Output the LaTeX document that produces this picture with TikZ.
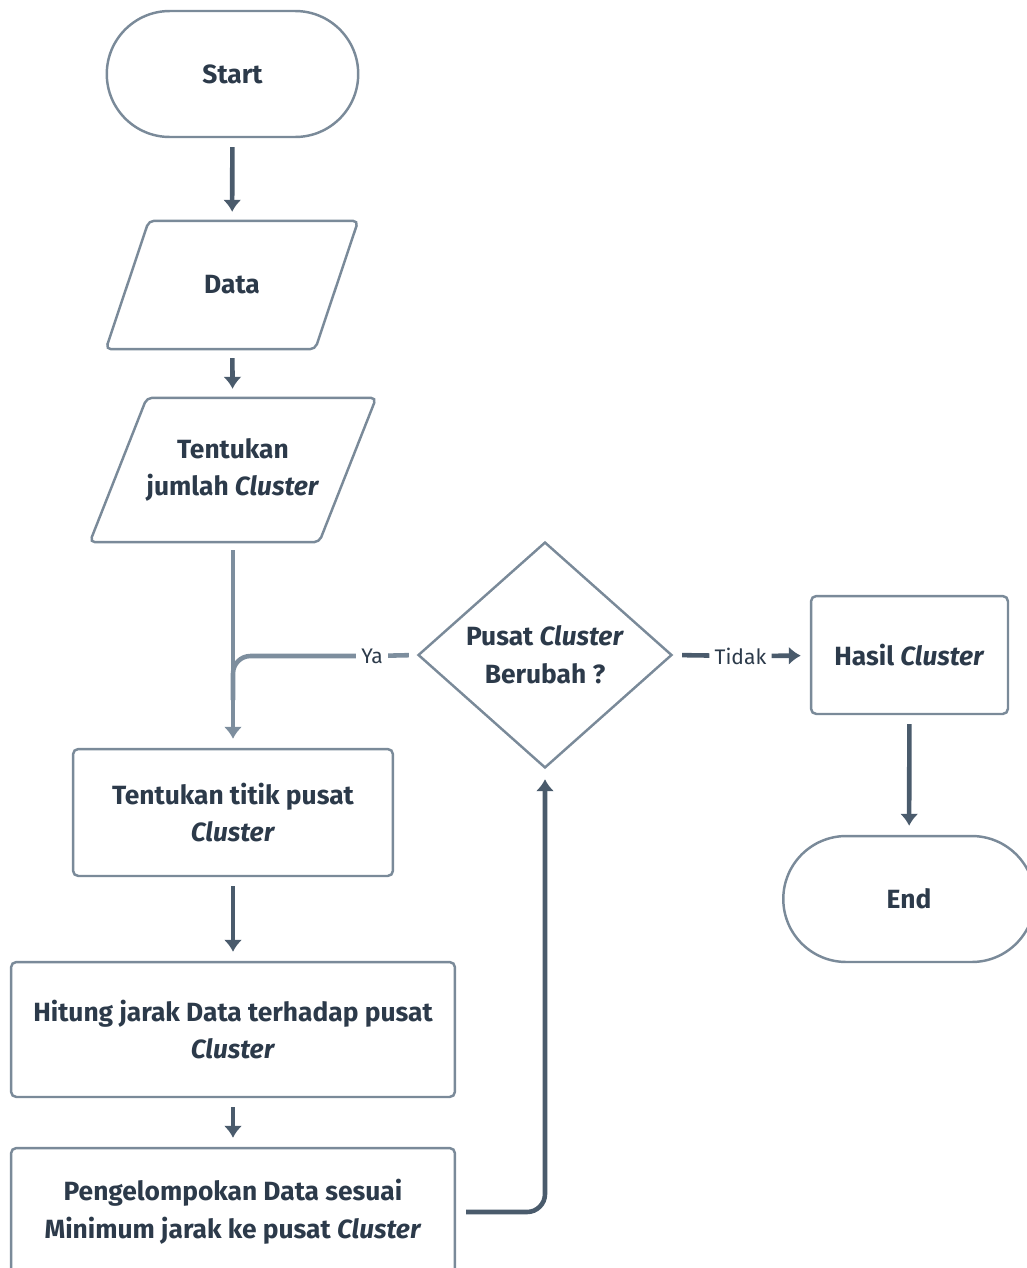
\documentclass[tikz,border=0pt]{standalone}
\usepackage{fontspec}
\setmainfont{Fira Sans}
\usetikzlibrary{
  arrows.meta,
  positioning,
  shapes.geometric,
  shapes.misc
}

\definecolor{edgegray}{RGB}{122,138,153}
\definecolor{arrowdark}{RGB}{74,91,108}
\definecolor{arrowlight}{RGB}{125,142,158}
\definecolor{textdark}{RGB}{44,58,74}

\tikzset{
  base/.style={draw=edgegray,line width=1.4pt,text=textdark,align=center,inner sep=0pt,
    font=\bfseries\fontsize{15}{21.5}\selectfont},
  terminal/.style={base,rounded rectangle,minimum width=5.03cm,minimum height=2.52cm},
  iobox/.style={base,rectangle,draw=none},
  ioline/.style={draw=edgegray,line width=1.4pt,rounded corners=3pt},
  procbox/.style={base,rectangle,rounded corners=3pt},
  decision/.style={base,diamond,minimum width=5.08cm,minimum height=4.52cm},
  lbl/.style={text=textdark,inner sep=0.1cm,font=\fontsize{12}{14}\selectfont},
  flow/.style={draw=arrowdark,line width=2.6pt,->,shorten <=0.18cm,shorten >=0.18cm},
  flowlight/.style={draw=arrowlight,line width=2.6pt}
}

\begin{document}
\begin{tikzpicture}[x=0.02cm,y=-0.02cm,>={Latex[length=0.24cm,width=0.37cm]}]
  \useasboundingbox (0,0) rectangle (1027,1268);
  \node[terminal] (start) at (232.5,74)  {Start};
  \node[iobox,minimum width=4.14cm,minimum height=2.52cm] (data) at (232,285) {Data};
  \node[iobox,minimum width=4.54cm,minimum height=2.84cm] (jumlah) at (233,470)
        {Tentukan\\jumlah \textit{Cluster}};
  \node[procbox,minimum width=6.4cm,minimum height=2.54cm] (titik) at (233,812.5)
        {Tentukan titik pusat\\\textit{Cluster}};
  \node[procbox,minimum width=8.88cm,minimum height=2.7cm] (hitung) at (233,1029.5)
        {Hitung jarak Data terhadap pusat\\\textit{Cluster}};
  \node[procbox,minimum width=8.88cm,minimum height=2.56cm] (peng) at (233,1212)
        {Pengelompokan Data sesuai\\Minimum jarak ke pusat \textit{Cluster}};
  \node[decision] (dec) at (545,655) {Pusat \textit{Cluster}\\Berubah ?};
  \node[procbox,minimum width=3.94cm,minimum height=2.36cm] (hasil) at (909.5,655)
        {Hasil \textit{Cluster}};
  \node[terminal] (end) at (909,899) {End};
  \node[lbl] (ya) at (372,656) {Ya};
  \node[lbl] (tidak) at (740.5,656) {Tidak};
  \coordinate (merge) at (233,700);

  \foreach \n/\d in {data/0.43cm,jumlah/0.57cm}
    \draw[ioline] ([xshift=\d]\n.north west) -- ([xshift=\d]\n.north east)
      -- ([xshift=-\d]\n.south east) -- ([xshift=-\d]\n.south west) -- cycle;

  \foreach \u/\v in {start/data,data/jumlah,titik/hitung,hitung/peng,hasil/end}
    \draw[flow] (\u) -- (\v);
  \draw[flowlight,->,shorten <=0.16cm,shorten >=0.18cm] (jumlah) -- (titik);
  \draw[flowlight,shorten <=0.16cm] (dec.west) -- (ya);
  \draw[flowlight,rounded corners=0.35cm] (ya) -- (ya -| merge) -- (merge);
  \draw[flow,-,shorten >=0pt] (dec.east) -- (tidak);
  \draw[flow,shorten <=0pt] (tidak) -- (hasil);
  \draw[flow,rounded corners=0.36cm,shorten <=0.2cm,shorten >=0.2cm] (peng.east) -| (dec.south);
\end{tikzpicture}
\end{document}
